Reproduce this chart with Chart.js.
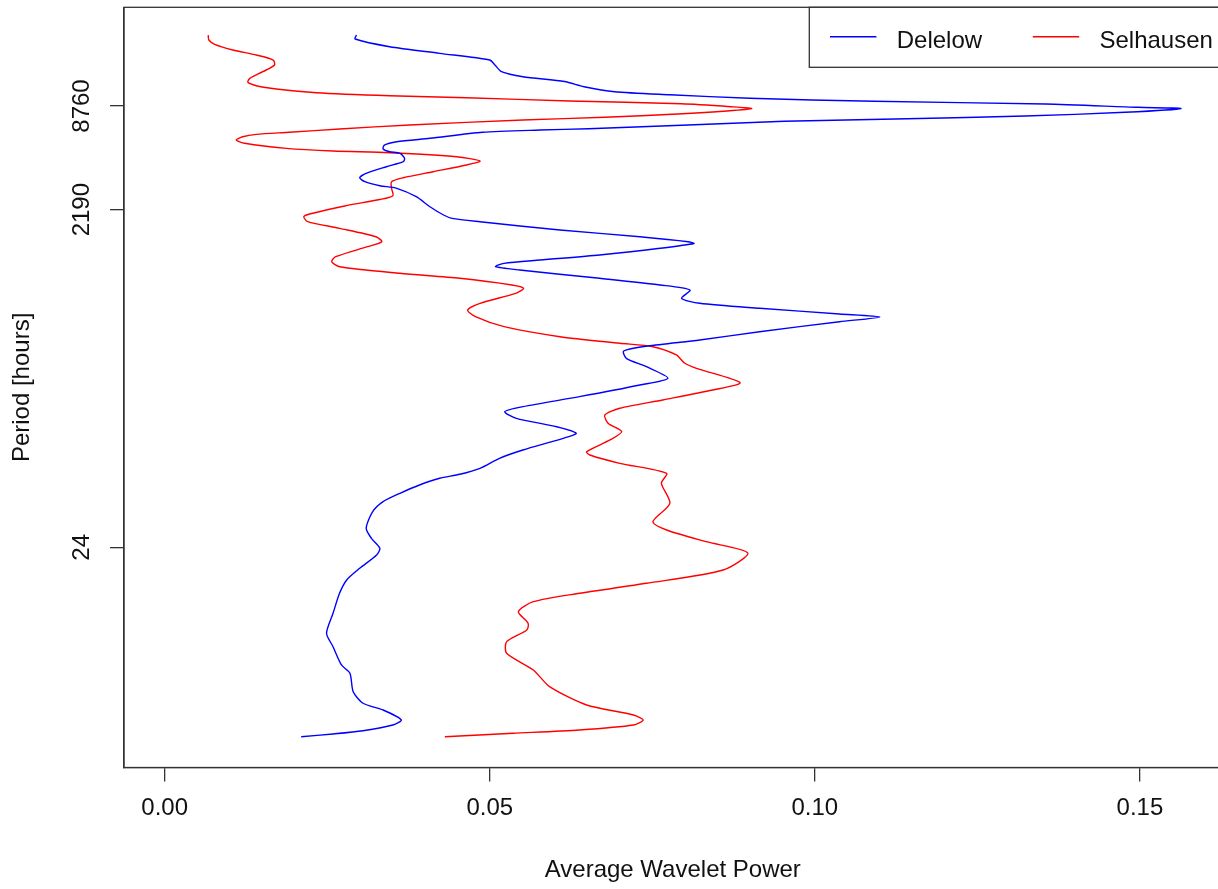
<!DOCTYPE html>
<html>
<head>
<meta charset="utf-8">
<script src="https://cdn.jsdelivr.net/npm/chart.js@4.4.1/dist/chart.umd.min.js"></script>
<style>
  html, body { margin: 0; padding: 0; background: #fff; overflow: hidden; }
  #wrap { width: 1232px; height: 889px; position: relative; }
</style>
</head>
<body>
<div id="wrap"><canvas id="myChart"></canvas></div>
<script>
// period is stored as log2(hours), like the original plot's y values
const delelowLog2Period = [14.465,14.388,14.240,14.112,13.983,13.887,13.758,13.661,13.569,13.468,
  13.372,13.314,13.245,13.187,13.135,13.071,13.048,12.975,12.903,12.851,
  12.801,12.724,12.658,12.633,12.589,12.473,12.408,12.344,12.267,12.215,
  12.184,12.087,12.022,11.925,11.798,11.713,11.636,11.559,11.509,11.347,
  11.154,10.994,10.930,10.865,10.705,10.575,10.479,10.444,10.352,10.223,
  10.126,10.062,9.997,9.933,9.773,9.644,9.548,9.387,9.291,9.195,
  9.085,9.027,8.936,8.743,8.583,8.467,8.371,8.230,8.068,7.845,
  7.715,7.490,7.297,7.200,7.073,6.911,6.784,6.687,6.462,6.302,
  6.109,5.993,5.916,5.787,5.627,5.465,5.272,4.952,4.759,4.566,
  4.437,4.180,3.955,3.698,3.312,2.927,2.668,2.315,2.155,1.800,
  1.577,1.447,1.255,1.158,1.048,0.985,0.932];
const delelowPower = [0.0295,0.0293,0.0346,0.0423,0.0500,0.0508,0.0518,0.0551,0.0615,0.0645,
  0.0692,0.0777,0.0900,0.1091,0.1355,0.1497,0.1563,0.1477,0.1323,0.1142,
  0.0953,0.0795,0.0652,0.0577,0.0489,0.0408,0.0357,0.0338,0.0336,0.0346,
  0.0362,0.0369,0.0367,0.0341,0.0310,0.0300,0.0308,0.0331,0.0357,0.0387,
  0.0408,0.0429,0.0442,0.0485,0.0608,0.0731,0.0805,0.0814,0.0762,0.0669,
  0.0577,0.0522,0.0509,0.0546,0.0669,0.0762,0.0808,0.0795,0.0823,0.0915,
  0.1038,0.1100,0.1038,0.0915,0.0823,0.0743,0.0706,0.0710,0.0741,0.0774,
  0.0731,0.0638,0.0551,0.0523,0.0541,0.0603,0.0633,0.0613,0.0551,0.0515,
  0.0485,0.0454,0.0423,0.0392,0.0362,0.0336,0.0320,0.0310,0.0318,0.0331,
  0.0326,0.0300,0.0280,0.0269,0.0259,0.0249,0.0259,0.0272,0.0285,0.0290,
  0.0305,0.0336,0.0364,0.0351,0.0305,0.0259,0.0210];

const selhausenLog2Period = [14.465,14.369,14.286,14.176,14.080,13.983,13.887,13.758,13.630,13.553,
  13.488,13.424,13.353,13.295,13.256,13.193,13.140,13.083,13.048,13.000,
  12.942,12.878,12.826,12.730,12.653,12.589,12.550,12.504,12.440,12.377,
  12.280,12.228,12.195,12.118,12.035,11.958,11.829,11.713,11.636,11.509,
  11.366,11.293,11.168,11.013,10.961,10.865,10.737,10.575,10.479,10.383,
  10.190,10.093,9.997,9.870,9.773,9.644,9.580,9.484,9.291,9.162,
  9.033,8.840,8.647,8.520,8.454,8.294,8.134,8.037,7.760,7.619,
  7.426,7.266,7.137,6.977,6.815,6.655,6.429,6.365,6.205,6.012,
  5.820,5.434,5.079,4.919,4.693,4.475,4.147,3.891,3.698,3.536,
  3.343,3.119,2.990,2.765,2.541,2.219,1.897,1.544,1.351,1.255,
  1.158,1.062,0.998,0.932];
const selhausenPower = [0.0067,0.0068,0.0077,0.0105,0.0141,0.0167,0.0169,0.0151,0.0131,0.0128,
  0.0141,0.0172,0.0233,0.0346,0.0464,0.0623,0.0795,0.0871,0.0903,0.0865,
  0.0789,0.0677,0.0551,0.0377,0.0269,0.0192,0.0141,0.0120,0.0110,0.0123,
  0.0187,0.0259,0.0346,0.0449,0.0485,0.0464,0.0413,0.0367,0.0349,0.0349,
  0.0351,0.0331,0.0277,0.0223,0.0214,0.0220,0.0269,0.0325,0.0334,0.0312,
  0.0263,0.0257,0.0269,0.0362,0.0454,0.0534,0.0552,0.0540,0.0485,0.0466,
  0.0478,0.0522,0.0608,0.0700,0.0751,0.0787,0.0800,0.0818,0.0885,0.0843,
  0.0766,0.0700,0.0677,0.0682,0.0703,0.0685,0.0649,0.0654,0.0700,0.0772,
  0.0764,0.0777,0.0751,0.0772,0.0833,0.0897,0.0859,0.0741,0.0638,0.0567,
  0.0544,0.0559,0.0557,0.0526,0.0526,0.0567,0.0592,0.0649,0.0721,0.0736,
  0.0721,0.0638,0.0536,0.0431];

const periodTicks = [24, 2190, 8760];
const powerTicks = [0, 0.05, 0.10, 0.15];

const FONT = '"Liberation Sans", Arial, sans-serif';
const AXIS_COLOR = '#333';
const TEXT_COLOR = '#111';

function toPoints(powers, periods) {
    return powers.map((p, i) => ({ x: p, y: periods[i] }));
}

// R style box around the plot region
const plotBox = {
    id: 'plotBox',
    afterDatasetsDraw(chart) {
        const { ctx, chartArea } = chart;
        ctx.save();
        ctx.strokeStyle = AXIS_COLOR;
        ctx.lineWidth = 1.3;
        ctx.strokeRect(chartArea.left, chartArea.top, chartArea.right - chartArea.left, chartArea.bottom - chartArea.top);
        ctx.restore();
    }
};

// horizontal legend in a box at top right, like legend("topright", horiz = TRUE)
const boxLegend = {
    id: 'boxLegend',
    afterDraw(chart) {
        const { ctx, chartArea } = chart;
        const left = chartArea.right - 412.3;
        const top = chartArea.top;
        const h = 60;
        ctx.save();
        ctx.fillStyle = '#fff';
        ctx.fillRect(left, top, chartArea.right - left, h);
        ctx.strokeStyle = AXIS_COLOR;
        ctx.lineWidth = 1.3;
        ctx.strokeRect(left, top, chartArea.right - left, h);
        ctx.font = '24px ' + FONT;
        ctx.textBaseline = 'alphabetic';
        let x = left + 20.7;
        chart.data.datasets.forEach(ds => {
            ctx.strokeStyle = ds.borderColor;
            ctx.lineWidth = 1.4;
            ctx.beginPath();
            ctx.moveTo(x, top + 29.5);
            ctx.lineTo(x + 46.4, top + 29.5);
            ctx.stroke();
            ctx.fillStyle = TEXT_COLOR;
            ctx.fillText(ds.label, x + 66.7, top + 41);
            x += 66.7 + ctx.measureText(ds.label).width + 50.7;
        });
        ctx.restore();
    }
};

const ctx = document.getElementById('myChart').getContext('2d');

const myChart = new Chart(ctx, {
    type: 'scatter',
    data: {
        datasets: [{
            label: 'Delelow',
            data: toPoints(delelowPower, delelowLog2Period),
            borderColor: '#0000ff',
            borderWidth: 1.4,
            showLine: true,
            pointRadius: 0,
            tension: 0.25
        }, {
            label: 'Selhausen',
            data: toPoints(selhausenPower, selhausenLog2Period),
            borderColor: '#ff0000',
            borderWidth: 1.4,
            showLine: true,
            pointRadius: 0,
            tension: 0.25
        }]
    },
    options: {
        responsive: true,
        maintainAspectRatio: false,
        animation: false,
        layout: { padding: { top: 7.3, right: 10.4, bottom: 0, left: 0 } },
        plugins: {
            legend: { display: false },
            tooltip: { enabled: false }
        },
        scales: {
            x: {
                type: 'linear',
                min: -0.00625,
                max: 0.16256,
                afterFit: scale => {
                    scale.height = 121.5;
                    scale.paddingLeft = 0;
                    scale.paddingRight = 0;
                },
                afterBuildTicks: scale => { scale.ticks = powerTicks.map(v => ({ value: v })); },
                grid: { drawOnChartArea: false, drawTicks: true, tickLength: 14, color: AXIS_COLOR, lineWidth: 1.3 },
                border: { display: true, color: AXIS_COLOR, width: 1.3 },
                ticks: {
                    font: { family: FONT, size: 24 },
                    color: TEXT_COLOR,
                    padding: 12,
                    maxRotation: 0,
                    callback: v => Number(v).toFixed(2)
                },
                title: {
                    display: true,
                    text: 'Average Wavelet Power',
                    font: { family: FONT, size: 24 },
                    color: TEXT_COLOR,
                    padding: { top: 0, bottom: 4.6 }
                }
            },
            y: {
                type: 'linear',
                min: 0.338,
                max: 15.0,
                afterFit: scale => {
                    scale.width = 124;
                    scale.paddingTop = 0;
                    scale.paddingBottom = 0;
                },
                afterBuildTicks: scale => { scale.ticks = periodTicks.map(p => ({ value: Math.log2(p) })); },
                grid: { drawOnChartArea: false, drawTicks: true, tickLength: 14, color: AXIS_COLOR, lineWidth: 1.3 },
                border: { display: true, color: AXIS_COLOR, width: 1.3 },
                ticks: {
                    font: { family: FONT, size: 24 },
                    color: TEXT_COLOR,
                    padding: 1,
                    minRotation: 90,
                    maxRotation: 90,
                    crossAlign: 'center',
                    callback: (v, i) => periodTicks[i]
                },
                title: {
                    display: true,
                    text: 'Period [hours]',
                    font: { family: FONT, size: 24 },
                    color: TEXT_COLOR,
                    padding: { top: 7.6, bottom: 0 }
                }
            }
        }
    },
    plugins: [plotBox, boxLegend]
});
</script>
</body>
</html>
